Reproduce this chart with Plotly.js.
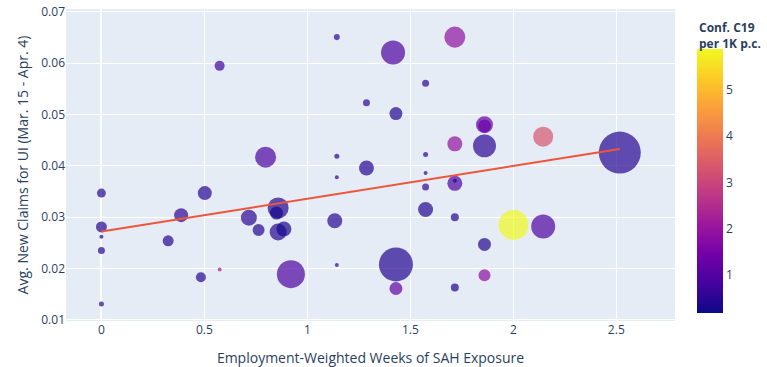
<!DOCTYPE html>
<html>
<head>
<meta charset="utf-8">
<script src="https://cdn.plot.ly/plotly-3.0.1.min.js"></script>
<style>html,body{margin:0;padding:0;background:#fff;}#chart{width:767px;height:367px;}</style>
</head>
<body>
<div id="chart"></div>
<script>
// Employment-weighted weeks of stay-at-home exposure
var sahWeeks = [1.143, 1.416, 0.574, 1.287, 1.430, 0.797, 1.143, 1.287, 1.143, 1.716,
                1.574, 1.860, 1.860, 1.716, 1.860, 1.574, 2.145, 1.574, 2.517, 1.716,
                1.716, 0.000, 0.502, 0.387, 0.716, 0.858, 0.850, 1.133, 0.000, 0.763,
                0.858, 0.886, 0.000, 0.324, 0.000, 0.574, 0.483, 0.920, 1.143, 1.430,
                1.430, 0.000, 1.574, 1.574, 1.716, 2.001, 2.145, 1.860, 1.860, 1.716];
// Avg. new claims for UI (Mar. 15 - Apr. 4)
var uiClaims = [0.0651, 0.0621, 0.0595, 0.0523, 0.0502, 0.0417, 0.0419, 0.0396, 0.0378, 0.0651,
                0.0561, 0.0480, 0.0478, 0.0443, 0.0439, 0.0422, 0.0457, 0.0386, 0.0426, 0.0366,
                0.0371, 0.0347, 0.0347, 0.0304, 0.0299, 0.0318, 0.0308, 0.0293, 0.0281, 0.0275,
                0.0271, 0.0277, 0.0262, 0.0254, 0.0235, 0.0198, 0.0183, 0.0189, 0.0207, 0.0208,
                0.0161, 0.0131, 0.0359, 0.0315, 0.0300, 0.0285, 0.0282, 0.0247, 0.0187, 0.0163];
// Confirmed COVID-19 cases per 1K people
var confC19 = [0.6, 0.9, 0.7, 0.5, 0.4, 0.9, 0.5, 0.4, 0.5, 1.9,
               0.5, 1.3, 1.3, 1.9, 0.5, 0.5, 3.3, 0.5, 0.45, 0.9,
               0.3, 0.45, 0.45, 0.5, 0.5, 0.4, 0.3, 0.45, 0.45, 0.4,
               0.45, 0.3, 0.4, 0.45, 0.4, 2.2, 0.45, 0.9, 0.5, 0.4,
               1.2, 0.45, 0.6, 0.4, 0.4, 5.89, 0.9, 0.4, 1.8, 0.4];
// Population (millions) - bubble size
var population = [0.81, 12.9, 2.24, 1.10, 3.78, 9.9, 0.56, 5.04, 0.36, 9.9,
                  1.10, 6.5, 3.78, 5.04, 11.8, 0.56, 9.0, 0.36, 39.5, 5.04,
                  0.36, 1.8, 4.4, 4.4, 5.7, 9.9, 3.78, 5.04, 2.7, 3.2,
                  6.5, 5.04, 0.36, 2.7, 1.1, 0.36, 2.24, 17.6, 0.36, 25.9,
                  3.78, 0.56, 1.1, 5.04, 1.43, 20.1, 12.9, 3.78, 3.2, 1.43];
// OLS trend line end points
var trendX = [0, 2.517];
var trendY = [0.0272, 0.0433];

var xTicks = [0, 0.5, 1, 1.5, 2, 2.5];
var xTickText = ['0', '0.5', '1', '1.5', '2', '2.5'];
var yTicks = [0.01, 0.02, 0.03, 0.04, 0.05, 0.06, 0.07];
var yTickText = ['0.01', '0.02', '0.03', '0.04', '0.05', '0.06', '0.07'];
var cbTicks = [1, 2, 3, 4, 5];
var cbTickText = ['1', '2', '3', '4', '5'];
var cbTitle = '<b>Conf. C19<br>per 1K p.c.</b>';

var maxPop = Math.max.apply(null, population);
var plasma = [[0, '#0d0887'], [0.1111, '#46039f'], [0.2222, '#7201a8'], [0.3333, '#9c179e'],
              [0.4444, '#bd3786'], [0.5556, '#d8576b'], [0.6667, '#ed7953'], [0.7778, '#fb9f3a'],
              [0.8889, '#fdca26'], [1, '#f0f921']];

var bubbles = {
  type: 'scatter', mode: 'markers',
  x: sahWeeks, y: uiClaims,
  showlegend: false,
  hoverinfo: 'x+y',
  marker: {
    size: population,
    sizemode: 'area',
    sizeref: 2 * maxPop / (42 * 42),
    color: confC19,
    cmin: 0.17, cmax: 5.89,
    colorscale: plasma,
    opacity: 0.7,
    line: {width: 0},
    colorbar: {
      thickness: 26,
      outlinewidth: 0,
      x: 1.0197, xanchor: 'left', xpad: 10,
      y: 0.8718, yanchor: 'top', ypad: 0,
      len: 0.846, lenmode: 'fraction',
      tickvals: cbTicks,
      ticktext: cbTickText,
      tickfont: {size: 12, color: '#2a3f5f'},
      ticks: ''
    }
  }
};

var trend = {
  type: 'scatter', mode: 'lines',
  x: trendX, y: trendY,
  showlegend: false,
  line: {color: '#EF553B', width: 2}
};

var layout = {
  width: 767, height: 367,
  margin: {l: 66, r: 92, t: 9, b: 46, autoexpand: false},
  paper_bgcolor: '#ffffff',
  plot_bgcolor: '#E5ECF6',
  font: {family: '"Open Sans", verdana, arial, sans-serif', size: 12, color: '#2a3f5f'},
  xaxis: {
    range: [-0.172, 2.785],
    tickvals: xTicks, ticktext: xTickText,
    gridcolor: '#ffffff', gridwidth: 1,
    zeroline: true, zerolinecolor: '#ffffff', zerolinewidth: 2,
    showline: false, ticks: '',
    title: {text: 'Employment-Weighted Weeks of SAH Exposure', font: {size: 14}}
  },
  yaxis: {
    range: [0.00977, 0.07058],
    tickvals: yTicks, ticktext: yTickText,
    gridcolor: '#ffffff', gridwidth: 1,
    zeroline: false, showline: false, ticks: '',
    title: {text: 'Avg. New Claims for UI (Mar. 15 - Apr. 4)', font: {size: 14}}
  },
  annotations: [{
    text: cbTitle, showarrow: false,
    xref: 'paper', yref: 'paper',
    x: 1.036, y: 0.975, xanchor: 'left', yanchor: 'top', align: 'left',
    font: {size: 12, color: '#2a3f5f'}
  }]
};

Plotly.newPlot('chart', [bubbles, trend], layout, {displayModeBar: false, staticPlot: true});
</script>
</body>
</html>
